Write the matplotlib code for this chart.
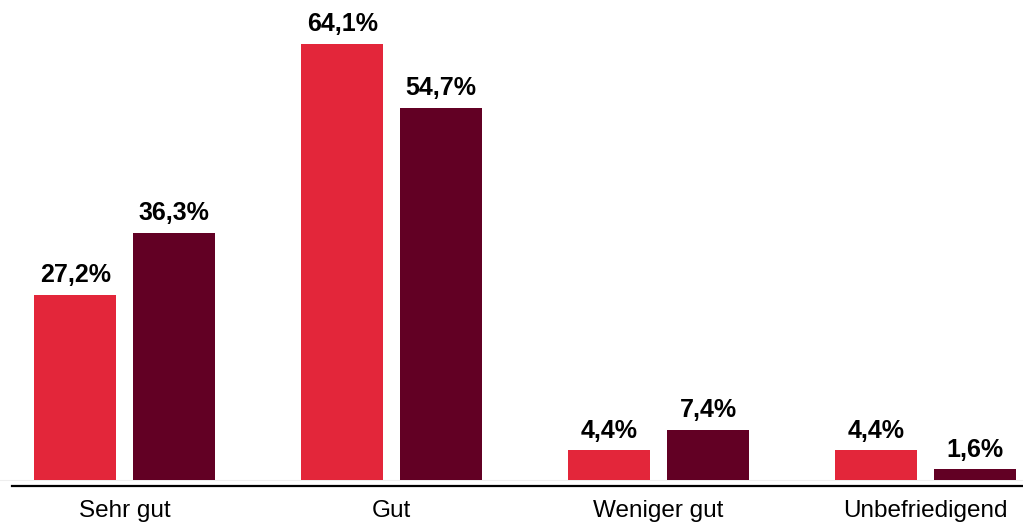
import numpy as np
import matplotlib.pyplot as plt

plt.rcParams['font.family'] = ['Liberation Sans', 'DejaVu Sans']

# Daten
categories = ['Sehr gut', 'Gut', 'Weniger gut', 'Unbefriedigend']
series_a = [27.2, 64.1, 4.4, 4.4]
series_b = [36.3, 54.7, 7.4, 1.6]

col_a = '#E3263A'
col_b = '#620024'

fig = plt.figure(figsize=(10.23, 5.24), dpi=100)
ax = fig.add_axes([0, 0.0725, 1, 0.9275])

x = np.arange(len(categories))
w = 0.307
off = 0.1855

bars_a = ax.bar(x - off, series_a, w, color=col_a)
bars_b = ax.bar(x + off, series_b, w, color=col_b)

for bars, vals in ((bars_a, series_a), (bars_b, series_b)):
    for b, v in zip(bars, vals):
        ax.annotate(('%.1f%%' % v).replace('.', ','),
                    (b.get_x() + b.get_width() / 2, v),
                    xytext=(0, 9), textcoords='offset points',
                    ha='center', va='baseline', fontsize=18, fontweight='bold')

ax.set_xlim(-0.4676, 3.3653)
ax.set_ylim(-0.88, 70.5)

# Grundlinie
ax.axhline(0, color='#eeeeee', lw=0.8, zorder=0)
ax.axhline(-0.88, xmin=12 / 1023, xmax=1, color='black', lw=1.6, clip_on=False)

ax.set_xticks(x)
ax.set_xticklabels(categories, fontsize=17.5)
ax.tick_params(axis='x', length=0, pad=10)
ax.set_yticks([])
for s in ax.spines.values():
    s.set_visible(False)

fig.savefig('out.png', dpi=100)
